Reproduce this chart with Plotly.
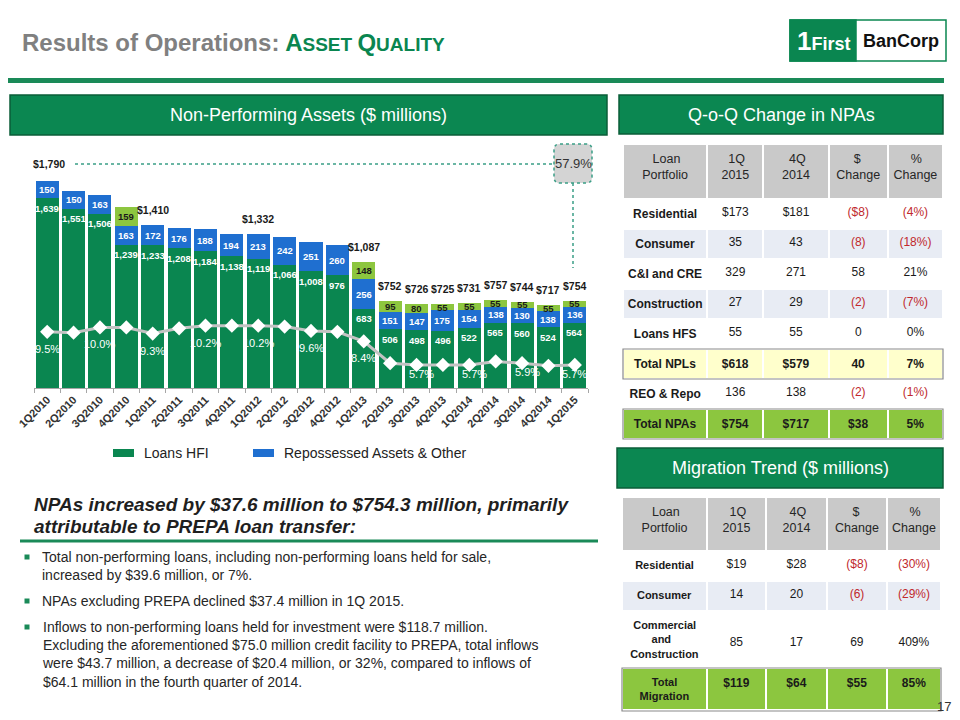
import plotly.graph_objects as go

# ---------------- data ----------------
quarters = ["1Q2010", "2Q2010", "3Q2010", "4Q2010", "1Q2011", "2Q2011", "3Q2011", "4Q2011",
            "1Q2012", "2Q2012", "3Q2012", "4Q2012", "1Q2013", "2Q2013", "3Q2013", "4Q2013",
            "1Q2014", "2Q2014", "3Q2014", "4Q2014", "1Q2015"]
loans_hfi = [1639, 1551, 1506, 1239, 1233, 1208, 1184, 1138, 1119, 1066, 1008, 976,
             683, 506, 498, 496, 522, 565, 560, 524, 564]
repossessed_other = [150, 150, 163, 163, 172, 176, 188, 194, 213, 242, 251, 260,
                     256, 151, 147, 175, 154, 138, 130, 138, 136]
loans_hfs = [0, 0, 0, 159, 0, 0, 0, 0, 0, 0, 0, 0,
             148, 95, 80, 55, 55, 55, 55, 55, 55]
npa_to_assets_pct = [9.5, 9.4, 10.0, 10.0, 9.3, 9.9, 10.2, 10.2, 10.2, 10.1, 9.6, 9.5,
                     8.4, 5.9, 5.7, 5.7, 5.7, 6.1, 5.9, 5.6, 5.7]
ratio_labels = ["9.5%", "", "10.0%", "", "9.3%", "", "10.2%", "", "10.2%", "", "9.6%", "",
                "8.4%", "", "5.7%", "", "5.7%", "", "5.9%", "", "5.7%"]
total_labels = ["$1,790", "", "", "", "$1,410", "", "", "", "$1,332", "", "", "",
                "$1,087", "$752", "$726", "$725", "$731", "$757", "$744", "$717", "$754"]
callout_pct = "57.9%"

NB = "\u00a0"
table_header = [NB * 3 + "Loan<br>Portfolio", NB * 2 + "1Q<br>2015", NB * 2 + "4Q<br>2014",
                NB * 5 + "$<br>Change", NB * 5 + "%<br>Change"]
qoq_portfolio = ["Residential", "Consumer", "C&I and CRE", "Construction", "Loans HFS",
                 "Total NPLs", "REO & Repo", "Total NPAs"]
qoq_1q2015 = ["$173", "35", "329", "27", "55", "$618", "136", "$754"]
qoq_4q2014 = ["$181", "43", "271", "29", "55", "$579", "138", "$717"]
qoq_dollar_change = ["($8)", "(8)", "58", "(2)", "0", "40", "(2)", "$38"]
qoq_pct_change = ["(4%)", "(18%)", "21%", "(7%)", "0%", "7%", "(1%)", "5%"]

mig_portfolio = ["Residential", "Consumer", NB + "Commercial<br>" + NB * 7 + "and<br>Construction",
                 NB * 4 + "Total<br>Migration"]
mig_1q2015 = ["$19", "14", "85", "$119"]
mig_4q2014 = ["$28", "20", "17", "$64"]
mig_dollar_change = ["($8)", "(6)", "69", "$55"]
mig_pct_change = ["(30%)", "(29%)", "409%", "85%"]

# ---------------- style ----------------
W, H = 960, 720
FONT = "Liberation Sans, Arial, Helvetica, sans-serif"
GREEN = "#0A8650"
HDR_GREEN = "#0B8751"
BLUE = "#1F6FD0"
LIME = "#8DC63F"
DARK = "#1F1F1F"
NEG = "#C0282D"
TBL_HDR = "#C9C9C9"
ALT = "#E8ECF4"
YELLOW = "#FFFFCC"
LIMEROW = "#8CC63F"
DOT = "#3A9E86"


def px(x):
    return x / W


def py(y):
    return 1 - y / H


fig = go.Figure()
fig.add_trace(go.Bar(x=quarters, y=loans_hfi, name="Loans HFI",
                     marker=dict(color=GREEN, line=dict(width=0)), hoverinfo="skip"))
fig.add_trace(go.Bar(x=quarters, y=repossessed_other, name="Repossessed Assets & Other",
                     marker=dict(color=BLUE, line=dict(width=0)), hoverinfo="skip"))
fig.add_trace(go.Bar(x=quarters, y=loans_hfs, name="Loans HFS",
                     marker=dict(color=LIME, line=dict(width=0)), hoverinfo="skip"))
fig.add_trace(go.Scatter(x=quarters, y=npa_to_assets_pct, yaxis="y2", mode="lines+markers",
                         line=dict(color="#C3C3C3", width=3),
                         marker=dict(symbol="diamond", size=11, color="white", line=dict(width=0)),
                         hoverinfo="skip"))


# ---------------- tables ----------------
def bold(s):
    return f"<b>{s}</b>"


def build_table(cols, fills_by_row, bold_rows, tall_rows=()):
    vals, colors = [], []
    for ci, col in enumerate(cols):
        out = []
        for ri, v in enumerate(col):
            t = v if "<br>" in v else v.replace(" ", NB)
            if ci > 0 and ri in tall_rows:
                t = NB + "<br>" + t
            out.append(bold(t) if (ci == 0 or ri in bold_rows) else t)
        vals.append(out)
        colors.append([NEG if v.startswith("(") else "#1A1A1A" for v in col])
    fills = [fills_by_row for _ in cols]
    return vals, colors, fills


qoq_cols = [qoq_portfolio, qoq_1q2015, qoq_4q2014, qoq_dollar_change, qoq_pct_change]
qv, qc, qf = build_table(qoq_cols, ["white", ALT, "white", ALT, "white", YELLOW, "white", LIMEROW], [5, 7])
fig.add_trace(go.Table(
    domain=dict(x=[px(623), px(943)], y=[py(446), py(144)]),
    columnwidth=[84, 56, 65, 59, 55],
    header=dict(values=table_header, fill_color=TBL_HDR, line=dict(color="white", width=2),
                font=dict(family=FONT, size=12.5, color="#262626"), align="center", height=55),
    cells=dict(values=qv, fill=dict(color=qf), line=dict(color="white", width=2),
               font=dict(family=FONT, size=12, color=qc), align="center", height=30)))

mig_cols = [mig_portfolio, mig_1q2015, mig_4q2014, mig_dollar_change, mig_pct_change]
mv, mc, mf = build_table(mig_cols, ["white", ALT, "white", LIMEROW], [3], tall_rows=(2,))
fig.add_trace(go.Table(
    domain=dict(x=[px(622), px(941)], y=[0, py(497)]),
    columnwidth=[85, 59, 61, 60, 54],
    header=dict(values=table_header, fill_color=TBL_HDR, line=dict(color="white", width=2),
                font=dict(family=FONT, size=12.5, color="#262626"), align="center", height=54),
    cells=dict(values=mv, fill=dict(color=mf), line=dict(color="white", width=2),
               font=dict(family=FONT, size=[11, 12, 12, 12, 12], color=mc), align="center", height=30)))

# ---------------- annotations ----------------
ann = []


def note(x, y, text, size, color=DARK, xanchor="center", yanchor="middle", xref="paper", yref="paper",
         xshift=0, yshift=0, align="center"):
    ann.append(dict(x=x, y=y, xref=xref, yref=yref, text=text, showarrow=False, align=align,
                    xanchor=xanchor, yanchor=yanchor, xshift=xshift, yshift=yshift,
                    font=dict(family=FONT, size=size, color=color)))


for i, q in enumerate(quarters):
    note(q, loans_hfi[i], bold(f"{loans_hfi[i]:,}"), 9.5, "white", xref="x", yref="y", yshift=-10)
    note(q, loans_hfi[i] + repossessed_other[i] / 2, bold(f"{repossessed_other[i]:,}"), 9.5, "white",
         xref="x", yref="y")
    if loans_hfs[i]:
        note(q, loans_hfi[i] + repossessed_other[i] + loans_hfs[i] / 2, bold(f"{loans_hfs[i]:,}"), 9.5,
             "#1A1A1A", xref="x", yref="y")
    if total_labels[i]:
        tot = loans_hfi[i] + repossessed_other[i] + loans_hfs[i]
        note(q, tot, bold(total_labels[i]), 10.5, "#1A1A1A", xref="x", yref="y",
             yshift=17 if i == 0 else 15, xshift=2 if i == 0 else 0)
    if ratio_labels[i]:
        v = npa_to_assets_pct[i]
        note(q, v, ratio_labels[i], 11, "white", xref="x", yref="y2",
             yshift=-17 if v > 7 else -9, xshift=0 if (v > 7 or i == len(quarters) - 1) else 5)

# title
note(px(20), py(42),
     "<b>Results of Operations: </b>"
     f"<span style='color:{GREEN}'><b>A</b></span>"
     f"<span style='color:{GREEN};font-size:19px'><b>SSET </b></span>"
     f"<span style='color:{GREEN}'><b>Q</b></span>"
     f"<span style='color:{GREEN};font-size:19px'><b>UALITY</b></span>",
     24, "#808080", xanchor="left")
# logo text
note(px(823), py(41), "<b><span style='font-size:26px'>1</span>First</b>", 18, "white")
note(px(901), py(41), "<b>BanCorp</b>", 18, "#111111")
# section headers
note(px(308.5), py(115), "Non-Performing Assets ($ millions)", 18, "white")
note(px(781), py(114.5), "Q-o-Q Change in NPAs", 18, "white")
note(px(780), py(468), "Migration Trend ($ millions)", 18, "white")
# callout
note(px(573), py(163.5), callout_pct, 13, "#333333")
# legend
note(px(142), py(453), "Loans HFI", 14, "#222222", xanchor="left")
note(px(282), py(453), "Repossessed Assets & Other", 14, "#222222", xanchor="left")
# commentary
note(px(32), py(505), "<b><i>NPAs increased by $37.6 million to $754.3 million, primarily</i></b>", 19,
     DARK, xanchor="left")
note(px(32), py(526), "<b><i>attributable to PREPA loan transfer:</i></b>", 19, DARK, xanchor="left")
note(px(40), py(566), "Total non-performing loans, including non-performing loans held for sale,<br>"
                      "increased by $39.6 million, or 7%.", 14, "#262626", xanchor="left", align="left")
note(px(40), py(601), "NPAs excluding PREPA declined $37.4 million in 1Q 2015.", 14, "#262626",
     xanchor="left", align="left")
note(px(40), py(654), "Inflows to non-performing loans held for investment were $118.7 million.<br>"
                      "Excluding the aforementioned $75.0 million credit facility to PREPA, total inflows<br>"
                      "were $43.7 million, a decrease of $20.4 million, or 32%, compared to inflows of<br>"
                      "$64.1 million in the fourth quarter of 2014.", 14, "#262626", xanchor="left",
     align="left")
note(px(944), py(706), "17", 13, "#333333")

# ---------------- shapes ----------------
shapes = []


def rect(x0, y0, x1, y1, fill, line=None, lw=0):
    shapes.append(dict(type="rect", xref="paper", yref="paper", x0=px(x0), x1=px(x1), y0=py(y1), y1=py(y0),
                       fillcolor=fill, line=dict(color=line or fill, width=lw), layer="below"))


def hline(x0, x1, y, color, width, dash="solid"):
    shapes.append(dict(type="line", xref="paper", yref="paper", x0=px(x0), x1=px(x1), y0=py(y), y1=py(y),
                       line=dict(color=color, width=width, dash=dash)))


def vline(x, y0, y1, color, width, dash="solid"):
    shapes.append(dict(type="line", xref="paper", yref="paper", x0=px(x), x1=px(x), y0=py(y0), y1=py(y1),
                       line=dict(color=color, width=width, dash=dash)))


def rrect_path(x0, y0, x1, y1, r):
    P = lambda x, y: f"{px(x):.5f},{py(y):.5f}"
    return (f"M {P(x0 + r, y0)} L {P(x1 - r, y0)} Q {P(x1, y0)} {P(x1, y0 + r)} "
            f"L {P(x1, y1 - r)} Q {P(x1, y1)} {P(x1 - r, y1)} L {P(x0 + r, y1)} "
            f"Q {P(x0, y1)} {P(x0, y1 - r)} L {P(x0, y0 + r)} Q {P(x0, y0)} {P(x0 + r, y0)} Z")


# logo
rect(790, 20, 946, 61, "white", GREEN, 1.5)
rect(790, 20, 856, 61, GREEN, GREEN, 1.5)
# title rule
rect(8, 78, 944, 83, "#1A8A58")
# section header boxes
rect(10, 95, 607, 135, HDR_GREEN, "#0B5E38", 1.5)
rect(619, 95, 943, 134, HDR_GREEN, "#0B5E38", 1.5)
rect(617, 448, 943, 488, HDR_GREEN, "#0B5E38", 1.5)
# callout lines & box
hline(75, 553, 164, DOT, 1.5, "dot")
vline(573, 183, 268, DOT, 1.5, "dot")
shapes.append(dict(type="path", xref="paper", yref="paper", path=rrect_path(554, 144, 592, 183, 6),
                   fillcolor="#D4D4D4", line=dict(color=DOT, width=1.5, dash="dot")))
# legend swatches
rect(113, 449, 134, 457, GREEN)
rect(253, 449, 274, 457, BLUE)
# commentary rule & bullets
rect(20, 539.5, 598, 542.5, "#1A8A58")
for by in (557, 601, 627):
    rect(24.5, by - 2.5, 29.5, by + 2.5, "#1A8A58")
# total-row outlines in the tables
for (x0, y0, x1, y1) in [(623, 349, 943, 379), (623, 409, 943, 439), (622, 668, 941, 711)]:
    shapes.append(dict(type="rect", xref="paper", yref="paper", x0=px(x0), x1=px(x1), y0=py(y1), y1=py(y0),
                       line=dict(color="#8A8A8A", width=1.2), fillcolor="rgba(0,0,0,0)"))

fig.update_layout(
    width=W, height=H, margin=dict(l=0, r=0, t=0, b=0),
    paper_bgcolor="white", plot_bgcolor="white",
    barmode="stack", bargap=0.125, showlegend=False,
    font=dict(family=FONT),
    xaxis=dict(domain=[px(34), px(588)], range=[-0.5, len(quarters) - 0.5], autorange=False,
               tickangle=-45, showgrid=False, zeroline=False, automargin=False,
               tickfont=dict(family=FONT, size=11, color="#333333", weight="bold"),
               showline=True, linecolor="#A6A6A6", linewidth=1,
               ticks="outside", tickson="boundaries", ticklen=4, tickcolor="#A6A6A6", fixedrange=True),
    yaxis=dict(domain=[py(388), py(156.6)], range=[0, 2000], visible=False, fixedrange=True, automargin=False),
    yaxis2=dict(range=[3.06, 29.57], overlaying="y", visible=False, fixedrange=True),
    annotations=ann, shapes=shapes,
)

fig.write_html("out.html")
